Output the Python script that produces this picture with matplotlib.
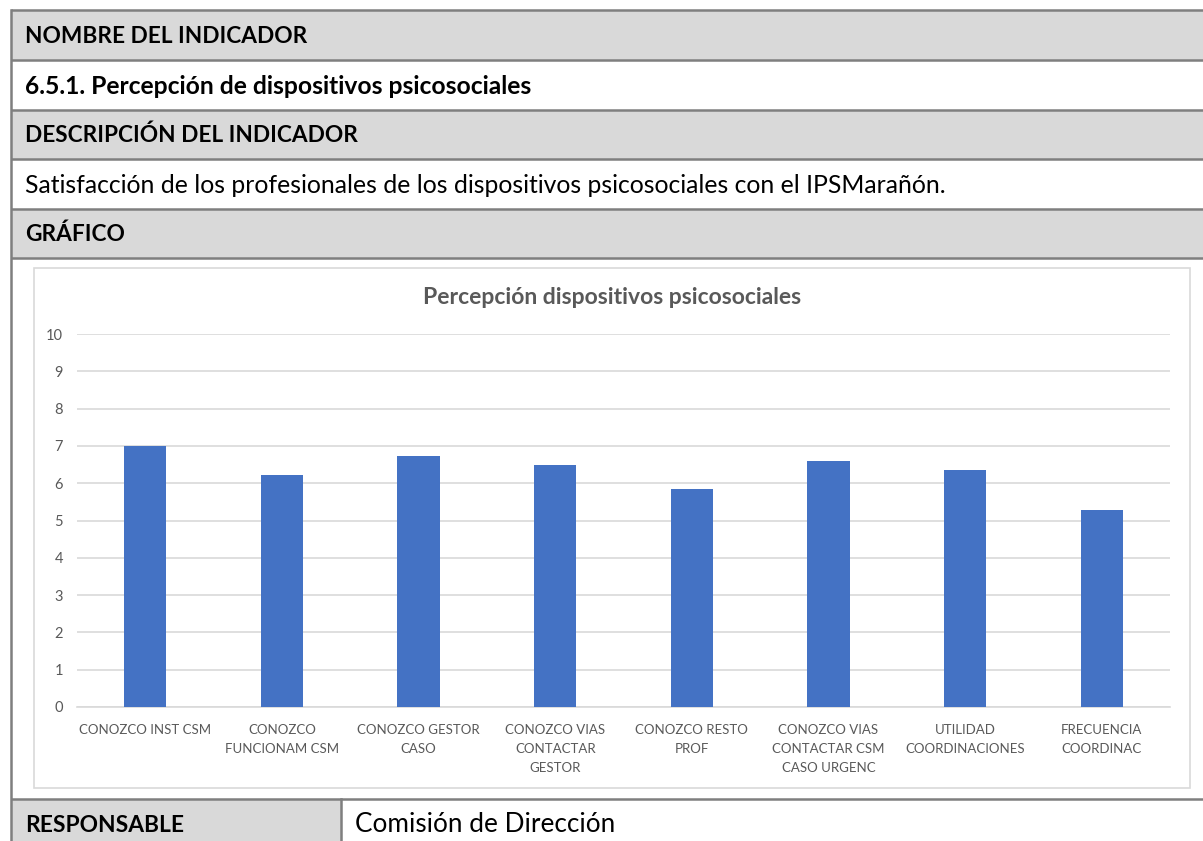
import matplotlib.pyplot as plt
import numpy as np
from matplotlib.patches import Rectangle

plt.rcParams['font.family'] = ['Lato', 'DejaVu Sans']

# datos del grafico
categorias = ["CONOZCO INST CSM", "CONOZCO\nFUNCIONAM CSM", "CONOZCO GESTOR\nCASO",
              "CONOZCO VIAS\nCONTACTAR\nGESTOR", "CONOZCO RESTO\nPROF",
              "CONOZCO VIAS\nCONTACTAR CSM\nCASO URGENC", "UTILIDAD\nCOORDINACIONES",
              "FRECUENCIA\nCOORDINAC"]
valores = [7.0, 6.23, 6.73, 6.49, 5.84, 6.6, 6.35, 5.28]
y_ticks = list(range(0, 11))

titulo = "Percepción dispositivos psicosociales"
filas_tabla = ["NOMBRE DEL INDICADOR",
               "6.5.1. Percepción de dispositivos psicosociales",
               "DESCRIPCIÓN DEL INDICADOR",
               "Satisfacción de los profesionales de los dispositivos psicosociales con el IPSMarañón.",
               "GRÁFICO"]
responsable = ["RESPONSABLE", "Comisión de Dirección"]

W, H = 1203, 841
fig = plt.figure(figsize=(W / 100, H / 100), dpi=100)

# fondo en pixeles para la tabla
bg = fig.add_axes([0, 0, 1, 1])
bg.set_xlim(0, W)
bg.set_ylim(H, 0)
bg.axis('off')

gris = "#D9D9D9"
linea = "#7F7F7F"
lineas_y = [10, 60, 110, 159, 209, 258]
fondo = [gris, "white", gris, "white", gris]
tamanos = [16.3, 17.7, 16.3, 17.8, 16.3]
for i in range(5):
    bg.add_patch(Rectangle((11, lineas_y[i]), W, lineas_y[i + 1] - lineas_y[i],
                           facecolor=fondo[i], edgecolor='none'))
    peso = 'normal' if i == 3 else 'bold'
    bg.text(25, (lineas_y[i] + lineas_y[i + 1]) / 2 + 1, filas_tabla[i],
            fontsize=tamanos[i], fontweight=peso, va='center', ha='left', color='black')

# fila responsable
bg.add_patch(Rectangle((11, 799), 330, 60, facecolor=gris, edgecolor='none'))
bg.text(25, 825, responsable[0], fontsize=16.4, fontweight='bold', va='center')
bg.text(355, 825, responsable[1], fontsize=18.8, va='center')

for y in lineas_y + [799]:
    bg.plot([11, W], [y, y], color=linea, lw=1.8, solid_capstyle='butt')
bg.plot([11, 11], [10, H], color=linea, lw=1.8)
bg.plot([341, 341], [799, H], color=linea, lw=1.8)

# marco del grafico
bg.add_patch(Rectangle((34, 268), 1156, 520, facecolor='white', edgecolor=gris, lw=1.2))
bg.text(612, 298, titulo, fontsize=16.5, fontweight='bold', color="#595959",
        ha='center', va='center')

# grafico de barras
x0, x1, ytop, ybot = 77, 1170, 334, 707
ax = fig.add_axes([x0 / W, (H - ybot) / H, (x1 - x0) / W, (ybot - ytop) / H])
x = np.arange(len(categorias))
ax.bar(x, valores, width=0.31, color="#4472C4", zorder=3)
ax.set_xlim(-0.5, len(categorias) - 0.5)
ax.set_ylim(0, 10)
ax.set_yticks(y_ticks)
ax.set_xticks(x)
ax.set_xticklabels(categorias, fontsize=9.5, color="#595959", linespacing=1.7)
ax.tick_params(axis='y', labelsize=10.5, colors="#595959", length=0, pad=10)
ax.tick_params(axis='x', length=0, pad=12)
ax.grid(axis='y', color=gris, lw=1.2, zorder=0)
for s in ['top', 'right', 'left']:
    ax.spines[s].set_visible(False)
ax.spines['bottom'].set_color(gris)
ax.spines['bottom'].set_linewidth(1.2)
ax.patch.set_alpha(0)

plt.savefig("out.png", dpi=100)
